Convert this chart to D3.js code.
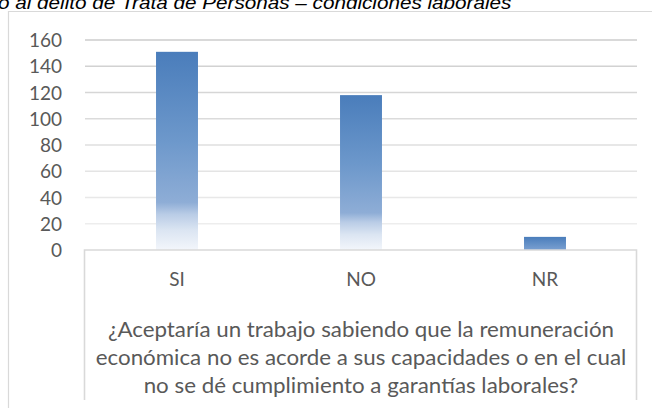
<!DOCTYPE html>
<html><head><meta charset="utf-8">
<script src="https://cdn.jsdelivr.net/npm/d3@7"></script>
<style>
html,body{margin:0;padding:0;background:#fff;}
svg{display:block;}
</style></head>
<body>
<svg id="chart" width="652" height="408"></svg>
<script>
const categories = ["SI", "NO", "NR"];
const values = [151, 118, 10];
const yTicks = [0, 20, 40, 60, 80, 100, 120, 140, 160];
const headerText = "o al delito de Trata de Personas – condiciones laborales";
const axisTitleLines = [
  "¿Aceptaría un trabajo sabiendo que la remuneración",
  "económica no es acorde a sus capacidades o en el cual",
  "no se dé cumplimiento a garantías laborales?"
];

const svg = d3.select("#chart");
const W = 652, H = 408;
const plot = {left: 85, right: 637, top: 40, bottom: 250};

// header (cut off at top, as in the reference)
svg.append("g").attr("transform", "translate(-2,0) scale(1.15,1)")
  .append("text")
  .attr("x", 0).attr("y", 9)
  .attr("font-family", "Liberation Sans, Arial, sans-serif")
  .attr("font-style", "italic")
  .attr("font-size", 18)
  .attr("fill", "#000")
  .text(headerText);

// outer border
svg.append("path")
  .attr("d", `M${W+1},11.5 H8.5 V${H+1}`)
  .attr("fill", "none").attr("stroke", "#d9d9d9").attr("stroke-width", 1.2);

const x = d3.scaleBand().domain(categories).range([plot.left, plot.right]).paddingInner(0.772).paddingOuter(0.386);
const y = d3.scaleLinear().domain([0, 160]).range([plot.bottom, plot.top]);

// gridlines
const gridColor = d3.scaleLinear().domain([20, 160]).range(["#ededed", "#cdcdcd"]);
svg.append("g").selectAll("line").data(yTicks.filter(t => t > 0)).join("line")
  .attr("x1", plot.left).attr("x2", plot.right)
  .attr("y1", d => y(d)).attr("y2", d => y(d))
  .attr("stroke", d => gridColor(d)).attr("stroke-width", 1.6);

// y axis labels
const yAxis = d3.axisLeft(y).tickValues(yTicks).tickSize(0).tickPadding(0);
const ya = svg.append("g").attr("transform", `translate(62,0)`).call(yAxis);
ya.select(".domain").remove();
ya.selectAll("text")
  .attr("font-family", "Lato, Carlito, Calibri, sans-serif")
  .attr("font-size", 19).attr("fill", "#595959").attr("dy", "0.35em");

// gradient
const defs = svg.append("defs");
const grad = defs.append("linearGradient").attr("id", "barGrad")
  .attr("x1", 0).attr("y1", 0).attr("x2", 0).attr("y2", 1);
[[0, "#4a7dbb"], [0.45, "#6d98cb"], [0.76, "#8eadd6"], [0.82, "#b9cce6"], [0.9, "#dbe5f2"], [1, "#f3f6fb"]]
  .forEach(([o, c]) => grad.append("stop").attr("offset", o).attr("stop-color", c));
const gradSmall = defs.append("linearGradient").attr("id", "barGradSmall")
  .attr("x1", 0).attr("y1", 0).attr("x2", 0).attr("y2", 1);
[[0, "#4a7dbb"], [1, "#7aa0d1"]]
  .forEach(([o, c]) => gradSmall.append("stop").attr("offset", o).attr("stop-color", c));

svg.append("g").selectAll("rect").data(categories).join("rect")
  .attr("x", d => x(d))
  .attr("width", x.bandwidth())
  .attr("y", (d, i) => y(values[i]))
  .attr("height", (d, i) => y(0) - y(values[i]))
  .attr("fill", (d, i) => values[i] > 40 ? "url(#barGrad)" : "url(#barGradSmall)");

// category box
svg.append("path")
  .attr("d", `M${plot.left - 0.5},400 V${plot.bottom} H${plot.right - 0.5} V400`)
  .attr("fill", "none").attr("stroke", "#d9d9d9").attr("stroke-width", 1.6);

// x axis labels
const xAxis = d3.axisBottom(x).tickSize(0).tickPadding(0);
const xa = svg.append("g").attr("transform", `translate(0,${plot.bottom})`).call(xAxis);
xa.select(".domain").remove();
xa.selectAll("text")
  .attr("font-family", "Lato, Carlito, Calibri, sans-serif")
  .attr("font-size", 19).attr("fill", "#595959")
  .attr("y", 36).attr("dy", 0);

// axis title (slightly widened like the reference)
const cx = (plot.left + plot.right) / 2;
svg.append("g").attr("transform", `translate(${cx},0) scale(1.1,1)`)
  .selectAll("text").data(axisTitleLines).join("text")
  .attr("x", 0)
  .attr("y", (d, i) => 337 + i * 28)
  .attr("text-anchor", "middle")
  .attr("font-family", "Lato, Carlito, Calibri, sans-serif")
  .attr("font-size", 20.3).attr("fill", "#595959")
  .text(d => d);
</script>
</body></html>
